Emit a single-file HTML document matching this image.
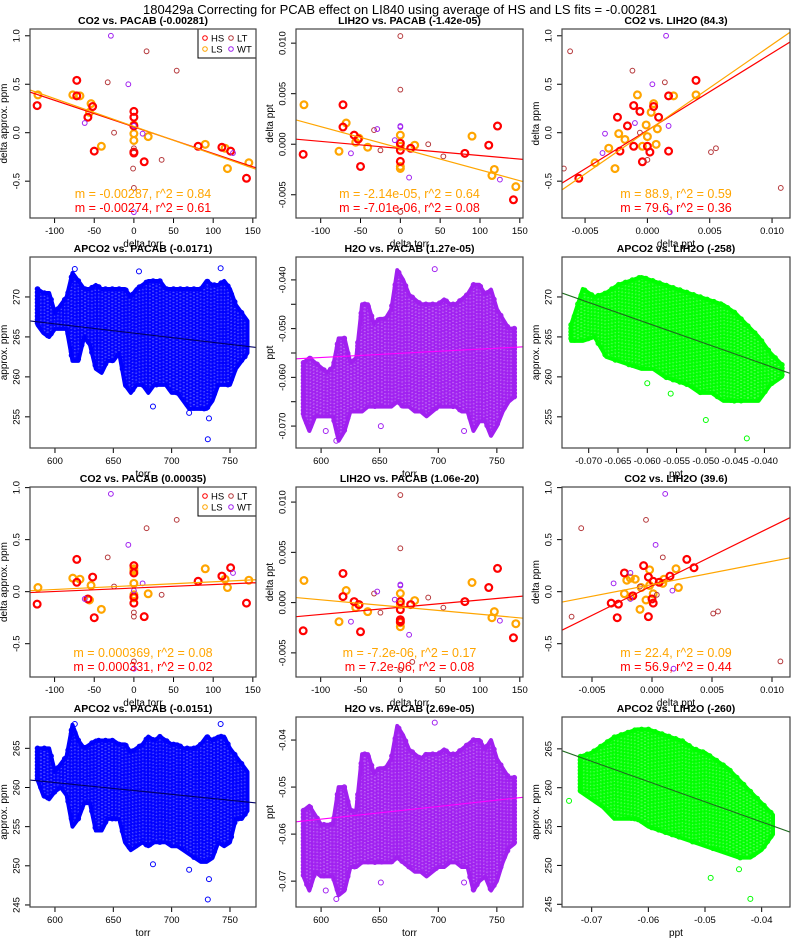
<!DOCTYPE html>
<html><head><meta charset="utf-8"><title>PCAB correction</title>
<style>
html,body{margin:0;padding:0;background:#fff;}
svg{display:block;font-family:"Liberation Sans",Arial,sans-serif;}
</style></head>
<body>
<svg id="chart" width="800" height="950" viewBox="0 0 800 950" xmlns="http://www.w3.org/2000/svg">
<text x="400" y="14" text-anchor="middle" font-size="13">180429a Correcting for PCAB effect on LI840 using average of HS and LS fits = -0.00281</text>
</svg>
<script>
// ---------- sparse panel data ----------
const p1HsX=[-122,-72,-72,-52,-58,-50,0,0,0,0,13,81,111,122,142,0];
const p1HsY=[0.28,0.54,0.38,0.27,0.16,-0.19,0.22,0.16,-0.2,-0.21,-0.3,-0.14,-0.15,-0.19,-0.47,0.07];
const p1LsX=[-121,-77,-68,-54,-56,-41,0,0,0,18,90,115,118,145];
const p1LsY=[0.39,0.39,0.38,0.30,0.21,-0.14,0.08,-0.01,-0.08,-0.04,-0.12,-0.16,-0.37,-0.31];
const p1LtX=[-33,16,54,-25,0,-1,35,0];
const p1LtY=[0.52,0.84,0.64,0.0,-0.16,-0.37,-0.28,-0.57];
const p1WtX=[-29,-7,-62,11,125,0,0];
const p1WtY=[1.0,0.5,0.1,-0.01,-0.21,-0.82,0.07];
const p1Slope=[-0.00287,-0.00274];
const p1Icpt=[0.065,0.06];
const p1Text=["m = -0.00287, r^2 = 0.84","m = -0.00274, r^2 = 0.61"];
const p2HsX=[-122,-72,-72,-58,-50,0,0,0,13,81,111,122,142,-53];
const p2HsY=[-0.0010,0.0039,0.0017,0.0009,-0.0022,0.0001,-0.0006,-0.0017,-0.0004,-0.0009,-0.0001,0.0018,-0.0055,0.0005];
const p2LsX=[-121,-77,-68,-56,-52,-41,0,0,0,0,18,90,115,118,145];
const p2LsY=[0.0039,-0.0007,0.0021,0.0002,0.0006,-0.0003,0.0009,-0.0002,-0.0022,-0.0024,-0.0001,0.0008,-0.0031,-0.0025,-0.0042];
const p2LtX=[-33,-25,0,0,35,54,0];
const p2LtY=[0.0014,-0.0006,0.0107,0.0054,0.0,-0.0012,-0.0067];
const p2WtX=[-29,-7,-62,0,0,11,125];
const p2WtY=[0.0015,0.0004,-0.0009,0.0017,0.0018,-0.0033,-0.0035];
const p2Slope=[-2.14e-5,-7.01e-6];
const p2Icpt=[-0.0004,-0.00042];
const p2Text=["m = -2.14e-05, r^2 = 0.64","m = -7.01e-06, r^2 = 0.08"];
const p3HsX=[-0.0055,-0.0024,-0.0016,-0.0011,-0.0011,-0.0006,-0.0022,-0.0004,0,0.0002,0.0005,0.0009,0.0017,0.0017,0.0039];
const p3HsY=[-0.47,0.16,0.07,0.28,-0.14,0.22,-0.19,-0.3,-0.14,-0.2,0.27,0.16,0.38,-0.19,0.54];
const p3LsX=[-0.0042,-0.0031,-0.0026,-0.0023,-0.0018,-0.0008,-0.0004,-0.0001,0,0.0003,0.0005,0.0007,0.0008,0.0021,0.0039];
const p3LsY=[-0.31,-0.16,-0.37,-0.01,-0.07,0.39,-0.14,0.08,-0.04,0.21,0.3,-0.12,0.04,0.38,0.39];
const p3LtX=[-0.0067,-0.0062,-0.0012,0.0014,-0.0006,0,0.0055,0.0107,0.0051];
const p3LtY=[-0.37,0.84,0.64,0.52,0.0,-0.28,-0.16,-0.57,-0.2];
const p3WtX=[-0.0034,-0.0036,-0.001,0.0004,0.0015,0.0017,0.0018];
const p3WtY=[-0.01,-0.21,0.1,0.5,1.0,0.07,-0.82];
const p3Slope=[88.9,79.6];
const p3Icpt=[0.019,0.025];
const p3Text=["m = 88.9, r^2 = 0.59","m = 79.6, r^2 = 0.36"];
const p7HsX=[-122,-72,-72,-58,-52,-50,0,0,0,0,13,81,111,122,142];
const p7HsY=[-0.12,0.31,0.09,-0.07,0.14,-0.25,0.25,0.18,-0.11,-0.05,-0.24,0.1,0.15,0.23,-0.11];
const p7LsX=[-121,-77,-68,-56,-54,-41,0,0,0,0,0,18,90,115,118,145];
const p7LsY=[0.04,0.13,0.12,-0.08,0.06,-0.17,0.22,0.2,0.08,-0.03,-0.06,-0.02,0.22,0.12,0.04,0.11];
const p7LtX=[-33,16,54,-25,0,0,35,0];
const p7LtY=[0.33,0.61,0.69,0.05,-0.2,-0.24,-0.03,-0.67];
const p7WtX=[-29,-7,-62,11,125,0,0];
const p7WtY=[0.94,0.45,-0.07,0.08,0.18,-0.74,0.01];
const p7Slope=[0.000369,0.000331];
const p7Icpt=[0.058,0.035];
const p7Text=["m = 0.000369, r^2 = 0.08","m = 0.000331, r^2 = 0.02"];
const p8HsX=[-122,-72,-72,-58,-52,-50,0,0,0,0,13,81,111,122,142];
const p8HsY=[-0.0028,0.0029,0.0006,0.0001,-0.0002,-0.0029,0.0001,-0.0007,-0.0017,-0.0019,-0.0002,0.0001,0.0015,0.0034,-0.0035];
const p8LsX=[-121,-77,-68,-56,-52,-41,0,0,0,0,18,90,115,118,145];
const p8LsY=[0.0022,-0.0019,0.0012,-0.0005,-0.0002,-0.0009,0.0009,-0.0002,-0.0020,-0.0024,0.0002,0.0020,-0.0015,-0.0009,-0.0021];
const p8LtX=[-33,-25,0,0,35,54,0,15];
const p8LtY=[0.0009,-0.0010,0.0107,0.0054,0.0005,-0.0005,-0.0067,-0.0059];
const p8WtX=[-29,-7,-62,0,0,11,125];
const p8WtY=[0.0011,0.0003,-0.0019,0.0017,0.0018,-0.0032,-0.0018];
const p8Slope=[-7.2e-6,7.2e-6];
const p8Icpt=[-0.00044,-0.00046];
const p8Text=["m = -7.2e-06, r^2 = 0.17","m = 7.2e-06, r^2 = 0.08"];
const p9HsX=[-0.0034,-0.0029,-0.0028,-0.0023,-0.0016,-0.0007,-0.0003,-0.0003,0,0.0001,0.0001,0.0006,0.0015,0.0029,0.0035];
const p9HsY=[-0.11,-0.25,-0.12,0.18,-0.04,0.25,0.14,-0.24,-0.07,-0.11,0.1,0.09,0.15,0.31,0.23];
const p9LsX=[-0.0023,-0.0021,-0.0018,-0.0014,-0.0018,-0.0009,-0.001,-0.0005,-0.0002,-0.0002,0.0001,0.0009,0.001,0.002,0.0022];
const p9LsY=[-0.02,0.11,0.13,0.12,-0.05,0.04,-0.17,-0.08,0.06,0.21,-0.02,0.08,0.12,0.22,0.04];
const p9LtX=[-0.0067,-0.0059,-0.0005,0.0009,-0.001,0.0004,0.0055,0.0107,0.0051];
const p9LtY=[-0.24,0.61,0.69,0.33,0.05,-0.03,-0.19,-0.67,-0.21];
const p9WtX=[-0.0032,-0.0018,-0.0018,0.0003,0.0011,0.0017,0.0018];
const p9WtY=[0.08,0.18,-0.07,0.45,0.94,0.01,-0.74];
const p9Slope=[22.4,56.9];
const p9Icpt=[0.068,0.057];
const p9Text=["m = 22.4, r^2 = 0.09","m = 56.9, r^2 = 0.44"];

// ---------- dense panel data ----------
const torrBins=[585,590,595,600,605,610,615,620,625,630,635,640,645,650,655,660,665,670,675,680,685,690,695,700,705,710,715,720,725,730,735,740,745,750,755,760,765];
const d4Lo=[266.5,265.5,265,266,266,266,262,262,265,264,261,260.5,262,262,263,259,258,259,259,258,259,259,259,258,258,257,256,256,256,256,257,259,259,259,261,262,263];
const d4Hi=[271,270.5,270.5,268,269,270,273,272,271,271,271.5,271,271,271,271,271,270,271,271.5,272,272,272,271,271,271,271,271,271,271,272,271.5,271.5,272,271,269,268,267];
const d4OutX=[684,715,732,731,617,672,742];
const d4OutY=[256.3,255.5,254.8,252.2,273.5,273.2,273.6];
const d4Fit=[-0.0171,276.89];
const d5Lo=[-0.068,-0.071,-0.068,-0.068,-0.068,-0.068,-0.073,-0.071,-0.067,-0.067,-0.067,-0.066,-0.066,-0.066,-0.066,-0.066,-0.065,-0.066,-0.066,-0.067,-0.067,-0.068,-0.067,-0.066,-0.066,-0.066,-0.066,-0.067,-0.067,-0.071,-0.069,-0.069,-0.072,-0.070,-0.067,-0.065,-0.064];
const d5Hi=[-0.057,-0.056,-0.057,-0.058,-0.059,-0.058,-0.052,-0.052,-0.057,-0.056,-0.045,-0.045,-0.049,-0.048,-0.048,-0.046,-0.038,-0.040,-0.043,-0.044,-0.045,-0.045,-0.045,-0.045,-0.044,-0.045,-0.045,-0.044,-0.043,-0.041,-0.041,-0.043,-0.042,-0.046,-0.048,-0.050,-0.050];
const d5OutX=[697,604,651,722,613];
const d5OutY=[-0.0378,-0.0710,-0.0700,-0.0710,-0.0730];
const d5Fit=[1.27e-5,-0.06355];
const d6Bins=[-0.073,-0.071,-0.069,-0.067,-0.065,-0.063,-0.061,-0.059,-0.057,-0.055,-0.053,-0.051,-0.049,-0.047,-0.045,-0.043,-0.041,-0.039,-0.037];
const d6Lo=[264.5,264.5,265,262.5,262,261.5,261,261,260,259.5,259,258,258,257,257,257,257,259,260];
const d6Hi=[266.5,271,270,270.5,271.5,272,272.5,272,271.5,271,270.5,270,269.5,269,268,266.5,265,263,261.5];
const d6OutX=[-0.043,-0.050,-0.060,-0.056];
const d6OutY=[252.3,254.6,259.2,257.9];
const d6Fit=[-258,251.25];
const d10Lo=[261,259,258.5,259.5,260,259,255,256,258,258,254.5,254.5,256,256,256,253,252,252.5,253,252.5,253,253,253,252.5,252.5,252,251.5,251,250.5,250.5,251,253,252.5,253,256,256,257];
const d10Hi=[265,265,265,262,263,264,268,266,265,265.5,266,266,266,266,265.5,265.5,264.5,265,265.5,266.5,266,266.5,266,265.5,265.5,265,265,265,265.5,266.5,266,266.5,266.5,265,264,263,262];
const d10OutX=[684,715,732,731,617,742];
const d10OutY=[250.2,249.5,248.3,245.7,268.1,268.1];
const d10Fit=[-0.0151,269.69];
const d11Lo=[-0.069,-0.072,-0.068,-0.069,-0.069,-0.069,-0.073,-0.072,-0.067,-0.067,-0.066,-0.066,-0.066,-0.066,-0.066,-0.066,-0.065,-0.066,-0.067,-0.068,-0.068,-0.069,-0.068,-0.067,-0.067,-0.066,-0.066,-0.067,-0.067,-0.072,-0.070,-0.069,-0.072,-0.070,-0.066,-0.063,-0.062];
const d11Hi=[-0.055,-0.054,-0.056,-0.058,-0.058,-0.058,-0.050,-0.050,-0.055,-0.055,-0.043,-0.043,-0.047,-0.046,-0.046,-0.044,-0.037,-0.039,-0.042,-0.043,-0.044,-0.043,-0.043,-0.043,-0.042,-0.043,-0.043,-0.042,-0.041,-0.040,-0.040,-0.042,-0.040,-0.044,-0.046,-0.048,-0.048];
const d11OutX=[697,604,651,722,613];
const d11OutY=[-0.0363,-0.0720,-0.0703,-0.0703,-0.0738];
const d11Fit=[2.69e-5,-0.07296];
const d12Bins=[-0.072,-0.070,-0.068,-0.066,-0.064,-0.062,-0.060,-0.058,-0.056,-0.054,-0.052,-0.050,-0.048,-0.046,-0.044,-0.042,-0.040,-0.038];
const d12Lo=[259.5,258.5,257.5,256,256,256,255,254.5,254,253.5,253,252.5,252,251.5,251,251,252,254];
const d12Hi=[264,264.5,265.5,266.5,267,267.5,267.5,267,266.5,266,265,264.5,263.5,262.5,261,259.5,258,256.5];
const d12OutX=[-0.074,-0.042,-0.049,-0.044];
const d12OutY=[258.3,245.7,248.4,249.5];
const d12Fit=[-260,245.19];

// ---------- helpers ----------
const NS="http://www.w3.org/2000/svg";
const svg=document.getElementById('chart');
function mk(tag,attrs,parent){const e=document.createElementNS(NS,tag);for(const k in attrs)e.setAttribute(k,attrs[k]);(parent||svg).appendChild(e);return e;}
const COLS=[[30,256],[296,523],[562,790]];
const ROWS=[[29,218],[257,448],[487,677],[717,907]];
let clipId=0;

function axesFrame(p){
  const [x0,x1]=COLS[p.col],[y0,y1]=ROWS[p.row];
  const g=mk('g',{});
  
  
  const sx=v=>x0+(v-p.xlim[0])/(p.xlim[1]-p.xlim[0])*(x1-x0);
  const sy=v=>y1-(v-p.ylim[0])/(p.ylim[1]-p.ylim[0])*(y1-y0);
  const t=mk('text',{x:(x0+x1)/2,y:y0-5,'text-anchor':'middle','font-size':'10.5','font-weight':'bold'},g);
  t.textContent=p.title;
  
  
  const xa=mk('g',{},g);
  
  
  const xt=p.xticks;
  mk('line',{x1:sx(xt[0]),x2:sx(xt[xt.length-1]),y1:y1,y2:y1,stroke:'#000','stroke-width':1},xa);
  xt.forEach((v,i)=>{
    mk('line',{x1:sx(v),x2:sx(v),y1:y1,y2:y1+5,stroke:'#000','stroke-width':1},xa);
    if(p.xlabels[i]!==''){const l=mk('text',{x:sx(v),y:y1+16,'text-anchor':'middle','font-size':'9.5'},xa);l.textContent=p.xlabels[i];
    
    }
  });
  const xl=mk('text',{x:(x0+x1)/2,y:y1+29,'text-anchor':'middle','font-size':'10'},xa);
  xl.textContent=p.xlab;
  
  
  const ya=mk('g',{},g);
  
  
  const yt=p.yticks;
  mk('line',{x1:x0,x2:x0,y1:sy(yt[0]),y2:sy(yt[yt.length-1]),stroke:'#000','stroke-width':1},ya);
  yt.forEach((v,i)=>{
    mk('line',{x1:x0-5,x2:x0,y1:sy(v),y2:sy(v),stroke:'#000','stroke-width':1},ya);
    if(p.ylabels[i]!==''){const lx=x0-13;const l=mk('text',{x:lx,y:sy(v),'text-anchor':'middle','dominant-baseline':'central','font-size':'9.5',transform:`rotate(-90 ${lx} ${sy(v)})`},ya);l.textContent=p.ylabels[i];
    
    }
  });
  const yl=mk('text',{x:x0-23,y:(y0+y1)/2,'text-anchor':'middle','font-size':'10',transform:`rotate(-90 ${x0-23} ${(y0+y1)/2})`},ya);
  yl.textContent=p.ylab;
  
  
  const id='c'+(clipId++);
  const cp=mk('clipPath',{id:id},g);
  mk('rect',{x:x0,y:y0,width:x1-x0,height:y1-y0},cp);
  const plot=mk('g',{'clip-path':`url(#${id})`},g);
  
  
  return {g,plot,sx,sy,x0,x1,y0,y1};
}
function box(f){
  const b=mk('rect',{x:f.x0,y:f.y0,width:f.x1-f.x0,height:f.y1-f.y0,fill:'none',stroke:'#444','stroke-width':1.2},f.g);
  
  
}
function fitLine(f,plot,slope,icpt,xlim,color,w,name){
  const l=mk('line',{x1:f.sx(xlim[0]),y1:f.sy(icpt+slope*xlim[0]),x2:f.sx(xlim[1]),y2:f.sy(icpt+slope*xlim[1]),stroke:color,'stroke-width':w},plot);
  
  
}
const C_HS='#ff0000',C_LS='#ffa500',C_LT='#b5383b',C_WT='#a020f0';

function sparse(p){
  const f=axesFrame(p);
  const series=[[p.lt,C_LT,2.4,1,'lt-point'],[p.wt,C_WT,2.4,1,'wt-point'],[p.ls,C_LS,3.4,2.2,'ls-point'],[p.hs,C_HS,3.4,2.2,'hs-point']];
  [series[2],series[3],series[0],series[1]].forEach(s=>{
    const [xy,col,r,w,nm]=s;
    xy[0].forEach((xv,i)=>{
      const c=mk('circle',{cx:f.sx(xv),cy:f.sy(xy[1][i]),r:r,fill:'none',stroke:col,'stroke-width':w},f.plot);
      
      
    });
  });
  fitLine(f,f.plot,p.slope[1],p.icpt[1],p.xlim,C_HS,1.2,'hs-fit-line');
  fitLine(f,f.plot,p.slope[0],p.icpt[0],p.xlim,C_LS,1.2,'ls-fit-line');
  const cx=(f.x0+f.x1)/2;
  const t1=mk('text',{x:cx,y:f.y1-20,'text-anchor':'middle','font-size':'12.5',fill:C_LS},f.g);
  t1.textContent=p.text[0];
  
  
  const t2=mk('text',{x:cx,y:f.y1-6,'text-anchor':'middle','font-size':'12.5',fill:C_HS},f.g);
  t2.textContent=p.text[1];
  
  
  if(p.legend){
    const lg=mk('g',{},f.g);
    
    
    const lx=f.x1-58,ly=f.y0;
    mk('rect',{x:lx,y:ly,width:58,height:29,fill:'#fff',stroke:'#000','stroke-width':1},lg);
    [['HS',C_HS,0,0],['LT',C_LT,1,0],['LS',C_LS,0,1],['WT',C_WT,1,1]].forEach(e=>{
      const ex=lx+7+e[2]*26,ey=ly+9+e[3]*11;
      const m=mk('circle',{cx:ex,cy:ey,r:2.3,fill:'none',stroke:e[1],'stroke-width':1},lg);
      
      
      const t=mk('text',{x:ex+6,y:ey+3.5,'font-size':'9.5'},lg);
      t.textContent=e[0];
      
      
    });
  }
  box(f);
}

function dense(p){
  const f=axesFrame(p);
  const bx=p.bins.map(f.sx),lo=p.lo.map(f.sy),hi=p.hi.map(f.sy);
  const step=p.step||3.4;
  let d='M'+bx[0]+','+hi[0];
  for(let i=1;i<bx.length;i++)d+=' L'+bx[i]+','+hi[i];
  for(let i=bx.length-1;i>=0;i--)d+=' L'+bx[i]+','+lo[i];
  d+='Z';
  const band=mk('path',{d:d,fill:p.color,'fill-opacity':0.7,stroke:p.color,'stroke-width':4,'stroke-linejoin':'round'},f.plot);
  
  
  const rings=mk('g',{fill:'none',stroke:p.color,'stroke-width':1},f.plot);
  
  
  let row=0;
  for(let x=bx[0];x<=bx[bx.length-1];x+=step){
    let i=0;while(i<bx.length-2&&bx[i+1]<x)i++;
    const t=(x-bx[i])/(bx[i+1]-bx[i]);
    const h=hi[i]+(hi[i+1]-hi[i])*t,l=lo[i]+(lo[i+1]-lo[i])*t;
    const off=(row++%2)*step/2;
    for(let y=h+off;y<=l;y+=step){
      mk('circle',{cx:x.toFixed(1),cy:y.toFixed(1),r:2.3},rings);
    }
  }
  p.outX.forEach((v,i)=>{
    const c=mk('circle',{cx:f.sx(v),cy:f.sy(p.outY[i]),r:2.5,fill:'none',stroke:p.color,'stroke-width':1},f.plot);
    
    
  });
  fitLine(f,f.plot,p.fit[0],p.fit[1],p.xlim,p.lineColor,1.1,'fit-line');
  box(f);
}

const torrLim=[578.6,772.3];
const dTorrTicks=[-100,-50,0,50,100,150];
const dTorrLab=['-100','-50','0','50','100','150'];
const ppmTicks=[-0.5,0,0.5,1.0];
const ppmLab=['-0.5','0.0','0.5','1.0'];
const pptTicks=[-0.005,0,0.005,0.010];
const pptLab=['-0.005','0.000','0.005','0.010'];
const torrTicks=[600,650,700,750];
const torrLab=['600','650','700','750'];

sparse({name:'panel-co2-vs-pacab',col:0,row:0,title:'CO2 vs. PACAB (-0.00281)',xlim:[-131,154],ylim:[-0.88,1.07],xticks:dTorrTicks,xlabels:dTorrLab,yticks:ppmTicks,ylabels:ppmLab,xlab:'delta torr',ylab:'delta approx. ppm',hs:[p1HsX,p1HsY],ls:[p1LsX,p1LsY],lt:[p1LtX,p1LtY],wt:[p1WtX,p1WtY],slope:p1Slope,icpt:p1Icpt,text:p1Text,legend:true});
sparse({name:'panel-lih2o-vs-pacab',col:1,row:0,title:'LIH2O vs. PACAB (-1.42e-05)',xlim:[-131,154],ylim:[-0.0073,0.0114],xticks:dTorrTicks,xlabels:dTorrLab,yticks:pptTicks,ylabels:pptLab,xlab:'delta torr',ylab:'delta ppt',hs:[p2HsX,p2HsY],ls:[p2LsX,p2LsY],lt:[p2LtX,p2LtY],wt:[p2WtX,p2WtY],slope:p2Slope,icpt:p2Icpt,text:p2Text});
sparse({name:'panel-co2-vs-lih2o',col:2,row:0,title:'CO2 vs. LIH2O (84.3)',xlim:[-0.00685,0.01144],ylim:[-0.88,1.07],xticks:pptTicks,xlabels:pptLab,yticks:ppmTicks,ylabels:ppmLab,xlab:'delta ppt',ylab:'delta ppm',hs:[p3HsX,p3HsY],ls:[p3LsX,p3LsY],lt:[p3LtX,p3LtY],wt:[p3WtX,p3WtY],slope:p3Slope,icpt:p3Icpt,text:p3Text});

dense({name:'panel-apco2-vs-pacab',col:0,row:1,title:'APCO2 vs. PACAB (-0.0171)',xlim:torrLim,ylim:[251.1,275],xticks:torrTicks,xlabels:torrLab,yticks:[255,260,265,270],ylabels:['255','260','265','270'],xlab:'torr',ylab:'approx. ppm',bins:torrBins,lo:d4Lo,hi:d4Hi,outX:d4OutX,outY:d4OutY,fit:d4Fit,color:'#0000ff',lineColor:'#000066'});
dense({name:'panel-h2o-vs-pacab',col:1,row:1,title:'H2O vs. PACAB (1.27e-05)',xlim:torrLim,ylim:[-0.0745,-0.0353],xticks:torrTicks,xlabels:torrLab,yticks:[-0.070,-0.065,-0.060,-0.055,-0.050,-0.045,-0.040],ylabels:['-0.070','','-0.060','','-0.050','','-0.040'],xlab:'torr',ylab:'ppt',bins:torrBins,lo:d5Lo,hi:d5Hi,outX:d5OutX,outY:d5OutY,fit:d5Fit,color:'#a020f0',lineColor:'#ff00ff'});
dense({name:'panel-apco2-vs-lih2o',col:2,row:1,title:'APCO2 vs. LIH2O (-258)',xlim:[-0.07456,-0.03563],ylim:[251.1,275],xticks:[-0.070,-0.065,-0.060,-0.055,-0.050,-0.045,-0.040],xlabels:['-0.070','-0.065','-0.060','-0.055','-0.050','-0.045','-0.040'],yticks:[255,260,265,270],ylabels:['255','260','265','270'],xlab:'ppt',ylab:'approx. ppm',bins:d6Bins,lo:d6Lo,hi:d6Hi,outX:d6OutX,outY:d6OutY,fit:d6Fit,color:'#00ff00',lineColor:'#1f6b1f'});

sparse({name:'panel-co2-vs-pacab-corrected',col:0,row:2,title:'CO2 vs. PACAB (0.00035)',xlim:[-131,154],ylim:[-0.82,1.006],xticks:dTorrTicks,xlabels:dTorrLab,yticks:ppmTicks,ylabels:ppmLab,xlab:'delta torr',ylab:'delta approx. ppm',hs:[p7HsX,p7HsY],ls:[p7LsX,p7LsY],lt:[p7LtX,p7LtY],wt:[p7WtX,p7WtY],slope:p7Slope,icpt:p7Icpt,text:p7Text,legend:true});
sparse({name:'panel-lih2o-vs-pacab-corrected',col:1,row:2,title:'LIH2O vs. PACAB (1.06e-20)',xlim:[-131,154],ylim:[-0.0074,0.0115],xticks:dTorrTicks,xlabels:dTorrLab,yticks:pptTicks,ylabels:pptLab,xlab:'delta torr',ylab:'delta ppt',hs:[p8HsX,p8HsY],ls:[p8LsX,p8LsY],lt:[p8LtX,p8LtY],wt:[p8WtX,p8WtY],slope:p8Slope,icpt:p8Icpt,text:p8Text});
sparse({name:'panel-co2-vs-lih2o-corrected',col:2,row:2,title:'CO2 vs. LIH2O (39.6)',xlim:[-0.0075,0.0115],ylim:[-0.82,1.006],xticks:pptTicks,xlabels:pptLab,yticks:ppmTicks,ylabels:ppmLab,xlab:'delta ppt',ylab:'delta ppm',hs:[p9HsX,p9HsY],ls:[p9LsX,p9LsY],lt:[p9LtX,p9LtY],wt:[p9WtX,p9WtY],slope:p9Slope,icpt:p9Icpt,text:p9Text});

dense({name:'panel-apco2-vs-pacab-corrected',col:0,row:3,title:'APCO2 vs. PACAB (-0.0151)',xlim:torrLim,ylim:[244.74,269.0],xticks:torrTicks,xlabels:torrLab,yticks:[245,250,255,260,265],ylabels:['245','250','255','260','265'],xlab:'torr',ylab:'approx. ppm',bins:torrBins,lo:d10Lo,hi:d10Hi,outX:d10OutX,outY:d10OutY,fit:d10Fit,color:'#0000ff',lineColor:'#000066'});
dense({name:'panel-h2o-vs-pacab-corrected',col:1,row:3,title:'H2O vs. PACAB (2.69e-05)',xlim:torrLim,ylim:[-0.0755,-0.0351],xticks:torrTicks,xlabels:torrLab,yticks:[-0.07,-0.06,-0.05,-0.04],ylabels:['-0.07','-0.06','-0.05','-0.04'],xlab:'torr',ylab:'ppt',bins:torrBins,lo:d11Lo,hi:d11Hi,outX:d11OutX,outY:d11OutY,fit:d11Fit,color:'#a020f0',lineColor:'#ff00ff'});
dense({name:'panel-apco2-vs-lih2o-corrected',col:2,row:3,title:'APCO2 vs. LIH2O (-260)',xlim:[-0.07524,-0.035],ylim:[244.65,269.1],xticks:[-0.07,-0.06,-0.05,-0.04],xlabels:['-0.07','-0.06','-0.05','-0.04'],yticks:[245,250,255,260,265],ylabels:['245','250','255','260','265'],xlab:'ppt',ylab:'approx. ppm',bins:d12Bins,lo:d12Lo,hi:d12Hi,outX:d12OutX,outY:d12OutY,fit:d12Fit,color:'#00ff00',lineColor:'#1f6b1f'});
</script>
</body></html>
